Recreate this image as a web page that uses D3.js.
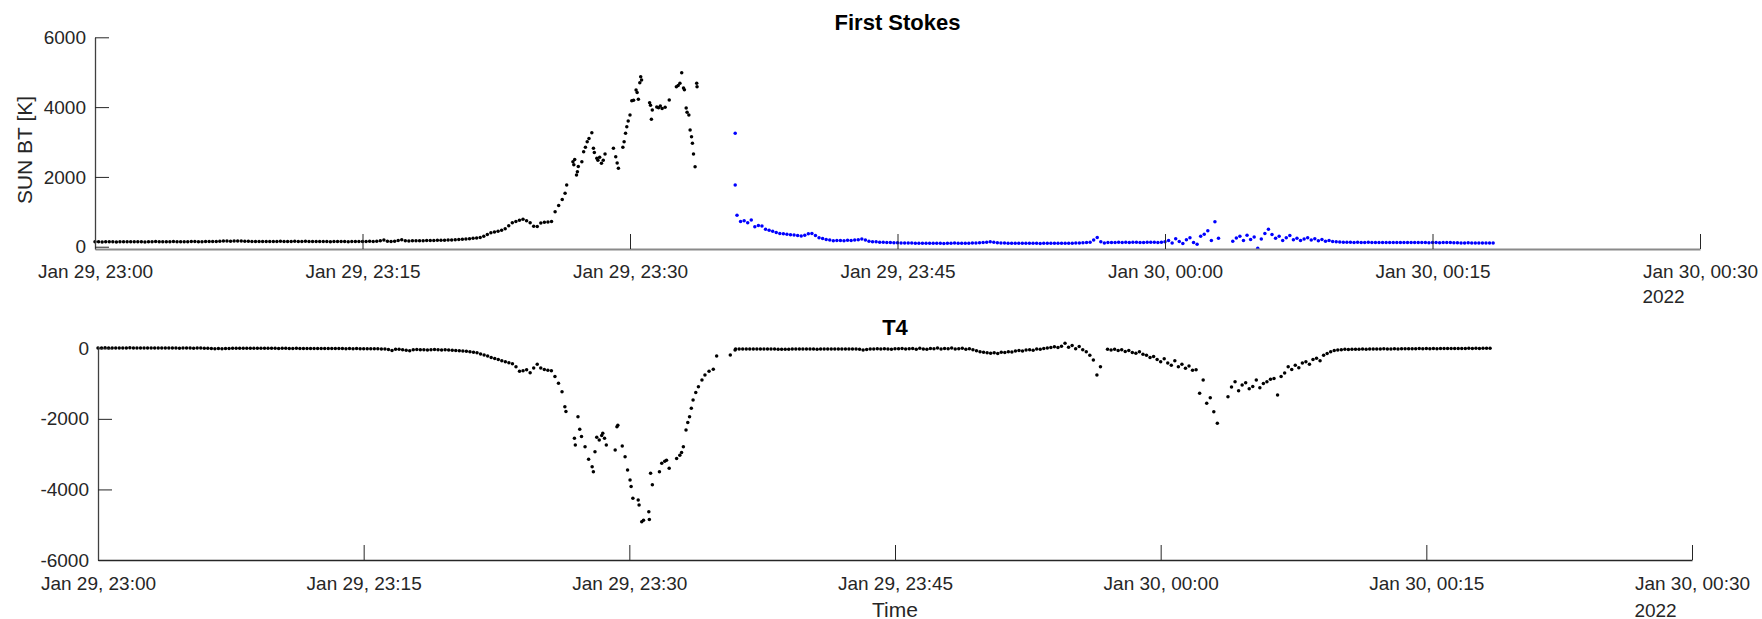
<!DOCTYPE html>
<html>
<head>
<meta charset="utf-8">
<script src="https://cdn.jsdelivr.net/npm/d3@7"></script>
<style>
  body { margin: 0; background: #fff; }
  text { font-family: "Liberation Sans", Arial, Helvetica, sans-serif; fill: #262626; }
</style>
</head>
<body>
<div id="chart"></div>
<script>
(function() {

  const svgWidth = 1762, svgHeight = 619;

  // time is kept as minutes after Jan 29 2022, 23:00 (UTC)
  const t0 = Date.UTC(2022, 0, 29, 23, 0);
  const toDate = m => new Date(t0 + m * 60000);

  const timeTicks = [0, 15, 30, 45, 60, 75, 90];
  const stokesTicks = [0, 2000, 4000, 6000];
  const t4Ticks = [-6000, -4000, -2000, 0];
  const sampleStep = 0.2; // minutes between samples in the regular arrays

  // First Stokes, before the flare (black), from 23:00
  const stokesQuietStart = 0;
  const stokesQuiet = [
    140,142,138,141,145,143,139,141,144,142,
    140,143,146,142,139,141,144,147,143,140,
    142,145,148,144,141,143,146,150,147,144,
    146,150,153,149,152,158,162,165,160,163,
    166,162,158,155,152,150,148,151,153,150,
    148,152,155,151,149,153,156,152,150,154,
    151,149,147,150,153,149,146,148,152,150,
    147,145,149,152,148,150,153,155,151,158,
    170,192,160,150,158,176,200,170,162,168,
    172,168,174,178,175,180,183,188,186,192,
    196,202,208,214,222,232,240,252,268,300,
    350,400,425,445,470,515,600,690,720,760,
    790,745,690,590,580,680,700,705,720,1000,1180,1350
  ];

  // First Stokes, flare peak (black), [minute, K]
  const stokesFlare = [
    [26.36,1530],[26.45,1770],[26.8,2436],[26.85,2350],[26.9,2500],[27.0,2054],[27.05,2150],
    [27.1,2300],[27.3,2436],[27.4,2722],[27.5,2850],[27.6,3009],[27.7,3100],[27.86,3266],
    [27.95,2819],[28.0,2700],[28.14,2532],[28.2,2480],[28.3,2560],[28.4,2389],[28.5,2480],
    [28.6,2656],[29.07,2819],[29.2,2579],[29.28,2400],[29.35,2246],[29.6,2848],[29.67,3009],
    [29.75,3250],[29.82,3438],[29.9,3600],[30.0,3773],[30.1,4183],[30.2,4200],[30.34,4490],
    [30.4,4420],[30.47,4223],[30.55,4700],[30.6,4871],[30.65,4776],[31.1,4126],[31.15,4050],
    [31.2,3650],[31.25,3917],[31.5,4000],[31.6,3980],[31.7,4032],[31.8,3960],[31.97,3993],
    [32.2,4203],[32.6,4585],[32.7,4620],[32.8,4681],[32.9,4986],[33.0,4547],[33.05,4500],
    [33.15,3974],[33.2,3850],[33.3,3773],[33.37,3343],[33.45,3150],[33.5,2963],[33.56,2656],
    [33.65,2292],[33.74,4682],[33.76,4580]
  ];

  // First Stokes, after the gap (blue)
  const stokesBlueIsolated = [[35.9,3250],[35.9,1770]];
  const stokesBlueStart = 36.0;
  const stokesBlue = [
    900,720,745,690,765,575,610,592,500,470,
    440,410,382,370,355,340,335,320,306,330,
    370,382,320,260,235,210,190,172,175,180,
    170,185,178,191,200,220,190,160,145,140,
    130,128,120,118,115,112,110,108,106,105,
    103,100,98,99,97,100,102,98,96,99,
    101,104,100,97,99,102,105,108,112,118,
    130,145,128,115,108,104,100,98,101,99,
    97,99,102,100,98,96,99,101,100,98,
    97,100,103,101,99,104,108,114,120,130,
    190,265,140,110,118,120,122,125,123,126,
    124,127,125,122,124,126,128,125,123,130,
    140,180,110,230,150,90,200,260,120,70,
    300,355,458,180,716,240,null,null,null,160,
    250,300,180,330,210,280,-46,220,380,498,
    350,240,300,180,260,320,200,240,180,220,
    260,190,230,170,210,160,180,150,140,135,
    130,128,126,124,125,122,123,125,121,124,
    122,120,123,121,119,122,120,118,121,119,
    120,118,122,119,117,120,118,116,119,121,
    118,115,113,110,108,112,110,106,104,108,106,110,108
  ];

  // T4, before the flare
  const t4QuietStart = 0;
  const t4Quiet = [
    10,8,12,9,7,11,10,8,9,12,
    10,7,9,11,8,6,9,10,7,8,
    5,8,6,4,7,9,6,3,5,7,
    4,2,-5,-10,-8,-12,-6,-3,0,2,
    4,1,-2,0,3,1,-1,2,0,-2,
    -1,-4,-2,0,-3,-5,-2,-4,-6,-3,
    -5,-7,-4,-6,-8,-5,-7,-9,-6,-8,
    -10,-8,-11,-9,-12,-10,-13,-15,-12,-14,
    -18,-22,-35,-60,-30,-25,-40,-55,-70,-40,
    -35,-42,-38,-45,-40,-36,-42,-48,-44,-50,
    -55,-62,-70,-78,-85,-96,-110,-130,-160,-190,
    -220,-260,-290,-320,-350,-380,-410,-440,-520,-650,
    -640,-610,-690,-560,-450,-560,-600,-620,-640,-800,-990,-1230
  ];

  // T4, flare dip, [minute, value]
  const t4Flare = [
    [26.36,-1655],[26.42,-1790],[26.9,-2551],[26.95,-2740],[27.1,-1938],[27.2,-2296],
    [27.3,-2500],[27.5,-2789],[27.7,-3146],[27.9,-3355],[27.97,-3497],[28.06,-2930],
    [28.16,-2522],[28.3,-2600],[28.44,-2470],[28.5,-2409],[28.6,-2550],[28.7,-2741],
    [29.2,-2882],[29.3,-2222],[29.35,-2180],[29.6,-2770],[29.76,-3072],[29.9,-3449],
    [30.04,-3733],[30.1,-3920],[30.2,-4252],[30.5,-4300],[30.55,-4440],[30.7,-4915],
    [30.8,-4870],[31.13,-4850],[31.1,-4630],[31.2,-3543],[31.3,-3870],[31.7,-3500],
    [31.83,-3260],[32.0,-3200],[32.1,-3170],[32.25,-3400],[32.67,-3120],[32.85,-3030],
    [32.95,-2950],[33.05,-2789],[33.2,-2315],[33.3,-2100],[33.4,-1938],[33.5,-1700],
    [33.6,-1465],[33.75,-1250],[33.9,-1087],[34.1,-900],[34.27,-757],[34.5,-650],
    [34.74,-597],[34.93,-218],[35.7,-190],[35.97,-48]
  ];

  // T4, after the flare
  const t4AfterStart = 36.0;
  const t4After = [
    -20,-18,-22,-19,-21,-20,-17,-19,-22,-20,
    -18,-21,-25,-30,-28,-24,-20,-22,-19,-21,
    -20,-18,-22,-24,-20,-19,-17,-21,-23,-20,
    -22,-19,-18,-20,-23,-30,-50,-35,-22,-18,
    -15,-20,-12,-18,-25,-10,-15,-5,-20,-12,
    -8,-25,-2,-18,-30,-5,-15,10,-20,-8,
    -12,5,-22,-10,0,-28,-15,-40,-70,-95,
    -110,-130,-140,-125,-150,-110,-120,-95,-105,-80,
    -60,-75,-50,-40,-55,-20,-30,-5,10,25,
    45,20,60,140,30,80,-10,50,-40,-100,
    -200,-330,-757,-520,null,-30,-45,-25,-60,-40,
    -90,-60,-120,-140,-100,-170,-200,-260,-230,-320,
    -380,-300,-420,-480,-350,-520,-450,-567,-500,-620,
    -610,-1275,-900,-1560,-1400,-1797,-2126,null,null,-1370,
    -1100,-950,-1200,-1040,-980,-1150,-1080,-900,-1120,-1000,
    -950,-880,-855,-1322,-800,-700,-520,-600,-480,-550,
    -420,-380,-450,-320,-285,-350,-200,-150,-100,-60,
    -45,-38,-30,-35,-28,-25,-30,-22,-26,-20,
    -18,-22,-19,-15,-20,-17,-14,-18,-16,-12,
    -15,-10,-13,-9,-12,-8,-11,-7,-10,-6,
    -8,-5,-7,-4,-6,-3,-5,-2,-4,-1,-3,0,-2,-1
  ];

  // turn a regular array into [minute, value] pairs, gaps (null) dropped
  function regular(start, values) {
    return values.map((v, i) => [start + i * sampleStep, v]).filter(d => d[1] !== null);
  }

  const svg = d3.select("#chart")
    .append("svg")
    .attr("width", svgWidth)
    .attr("height", svgHeight);

  const panels = [
    {
      title: "First Stokes", titleY: 29.5,
      left: 95, right: 1700, top: 37.3, bottom: 249,
      yDomain: [-65, 6000], yTicks: stokesTicks, yLabel: "SUN BT [K]",
      xAxisColor: "#8a8a8a", xAxisWidth: 2,
      tickLabelY: 29, yearY: 54, xLabel: null,
      series: [
        { data: regular(stokesQuietStart, stokesQuiet).concat(stokesFlare), color: "#000" },
        { data: stokesBlueIsolated.concat(regular(stokesBlueStart, stokesBlue)), color: "#0000ff" }
      ]
    },
    {
      title: "T4", titleY: 335,
      left: 98, right: 1692, top: 346.7, bottom: 560,
      yDomain: [-6000, 45], yTicks: t4Ticks, yLabel: null,
      xAxisColor: "#262626", xAxisWidth: 1.5,
      tickLabelY: 30, yearY: 56.5, xLabel: "Time",
      series: [
        { data: regular(t4QuietStart, t4Quiet).concat(t4Flare, regular(t4AfterStart, t4After)), color: "#000" }
      ]
    }
  ];

  panels.forEach(function(p) {

    const xScale = d3.scaleUtc()
      .domain([toDate(0), toDate(90)])
      .range([p.left, p.right]);

    const yScale = d3.scaleLinear()
      .domain(p.yDomain)
      .range([p.bottom, p.top]);

    const g = svg.append("g");

    // points
    p.series.forEach(function(s) {
      g.append("g")
        .selectAll("circle")
        .data(s.data)
        .enter()
        .append("circle")
        .attr("cx", d => xScale(toDate(d[0])))
        .attr("cy", d => yScale(d[1]))
        .attr("r", 1.75)
        .attr("fill", s.color);
    });

    // x axis, ticks pointing inward
    const xAxis = d3.axisBottom(xScale)
      .tickValues(timeTicks.map(toDate))
      .tickFormat(d3.utcFormat("%b %d, %H:%M"))
      .tickSize(-15)
      .tickSizeOuter(0);

    const xg = g.append("g")
      .attr("transform", `translate(0, ${p.bottom})`)
      .call(xAxis)
      .attr("font-family", null)
      .attr("font-size", null);

    xg.select(".domain").attr("stroke", p.xAxisColor).attr("stroke-width", p.xAxisWidth);
    xg.selectAll(".tick line").attr("stroke", "#262626");
    xg.selectAll(".tick text")
      .attr("y", p.tickLabelY)
      .attr("dy", null)
      .attr("font-size", 19)
      .attr("fill", "#262626");

    // year under the last tick label, left aligned with it
    const lastLabel = xg.selectAll(".tick text").nodes().pop();
    const lastWidth = lastLabel.getComputedTextLength();
    g.append("text")
      .attr("x", p.right - lastWidth / 2)
      .attr("y", p.bottom + p.yearY)
      .attr("font-size", 19)
      .text("2022");

    // y axis
    const yAxis = d3.axisLeft(yScale)
      .tickValues(p.yTicks)
      .tickFormat(d3.format("d"))
      .tickSize(-14)
      .tickSizeOuter(0)
      .tickPadding(9);

    const yg = g.append("g")
      .attr("transform", `translate(${p.left}, 0)`)
      .call(yAxis)
      .attr("font-family", null)
      .attr("font-size", null);

    yg.select(".domain").attr("stroke", "#404040").attr("stroke-width", 1.3);
    yg.selectAll(".tick line").attr("stroke", "#262626");
    yg.selectAll(".tick text")
      .attr("font-size", 19)
      .attr("fill", "#262626")
      .text(d => d < 0 ? "-" + Math.abs(d) : d);

    // title
    g.append("text")
      .attr("x", (p.left + p.right) / 2)
      .attr("y", p.titleY)
      .attr("text-anchor", "middle")
      .attr("font-size", 22)
      .attr("font-weight", "bold")
      .style("fill", "#000")
      .text(p.title);

    if (p.yLabel) {
      g.append("text")
        .attr("transform", `translate(32, 150) rotate(-90)`)
        .attr("text-anchor", "middle")
        .attr("font-size", 21)
        .text(p.yLabel);
    }

    if (p.xLabel) {
      g.append("text")
        .attr("x", (p.left + p.right) / 2)
        .attr("y", 616.5)
        .attr("text-anchor", "middle")
        .attr("font-size", 21)
        .text(p.xLabel);
    }
  });

})();
</script>
</body>
</html>
